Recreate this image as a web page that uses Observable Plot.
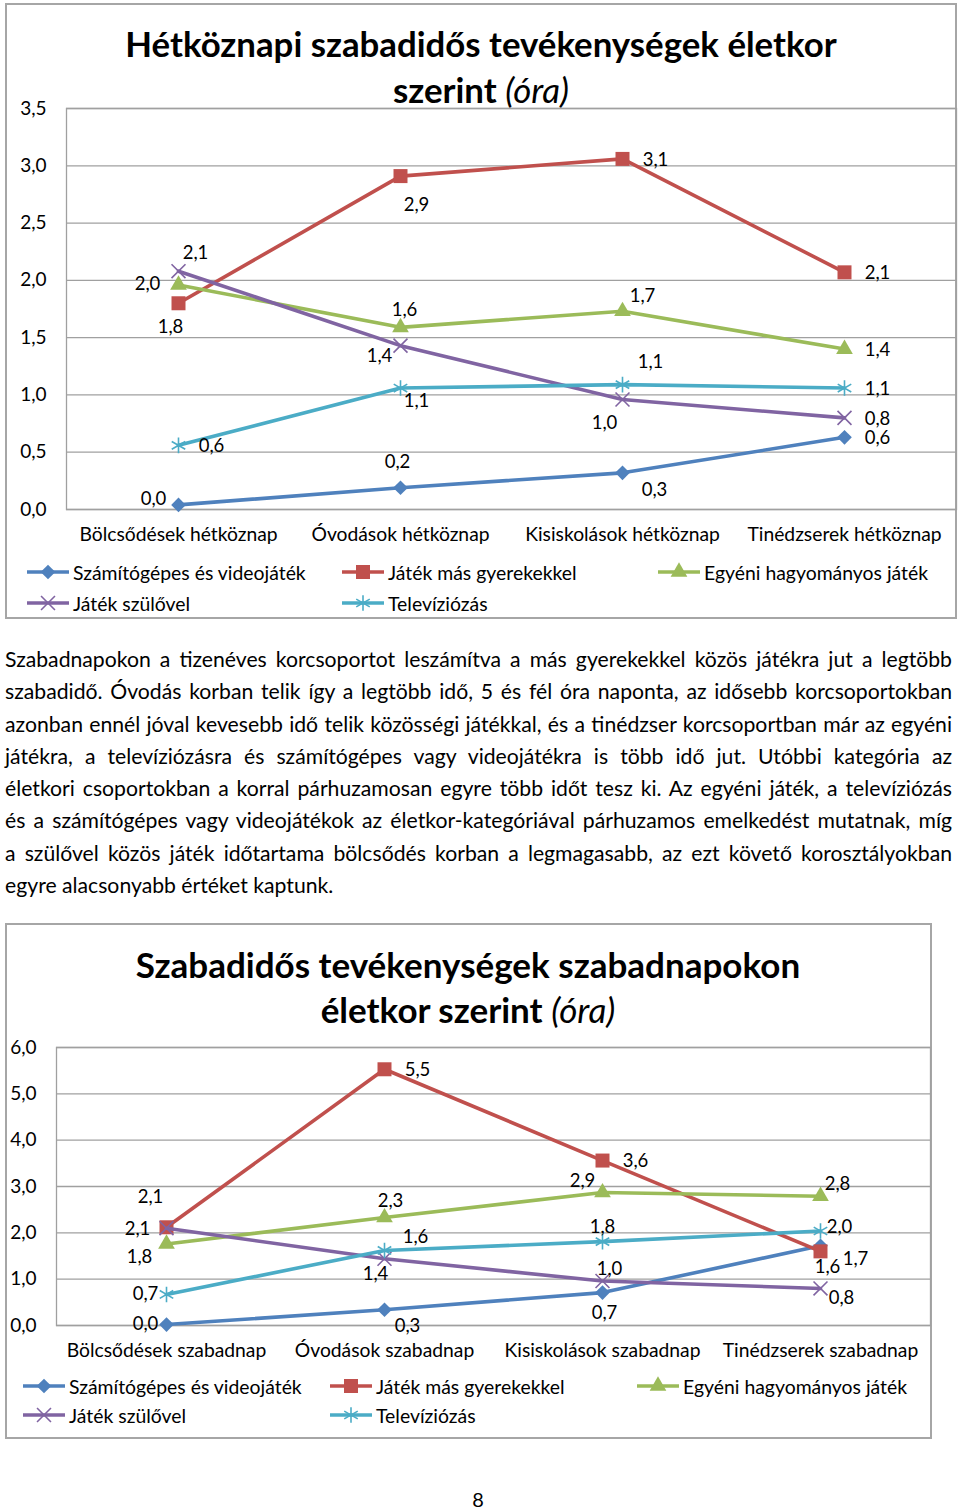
<!DOCTYPE html>
<html>
<head>
<meta charset="utf-8">
<script src="https://cdn.jsdelivr.net/npm/d3@7"></script>
<script src="https://cdn.jsdelivr.net/npm/@observablehq/plot@0.6"></script>
<style>
  html, body { margin: 0; padding: 0; background: #fff; }
  #page { position: relative; width: 960px; height: 1510px; background: #fff; font-family: Lato, "Open Sans", sans-serif; color: #000; overflow: hidden; }
  .box { position: absolute; border: 2px solid #a6a6a6; box-sizing: border-box; }
  .title { position: absolute; text-align: center; font-weight: 700; color: #000; white-space: nowrap; }
  .title i { font-weight: 400; }
  .plot { position: absolute; }
  .leg { position: absolute; display: flex; align-items: center; white-space: nowrap; font-size: 19.4px; }
  .leg svg { flex: none; margin-right: 4px; }
  #para { position: absolute; left: 5px; top: 643px; width: 947px; font-size: 21.2px; line-height: 32.3px; }
  #para div { text-align: justify; text-align-last: justify; white-space: nowrap; }
  #para div.last { text-align-last: left; }
  #pnum { position: absolute; left: 0; width: 956px; top: 1489px; height: 20px; line-height: 20px; text-align: center; font-size: 20px; }
</style>
</head>
<body>
<div id="page"></div>
<script>
// ---------------- data ----------------
const seriesNames = ["Számítógépes és videojáték", "Játék más gyerekekkel", "Egyéni hagyományos játék", "Játék szülővel", "Televíziózás"];

const weekdayCategories = ["Bölcsődések hétköznap", "Óvodások hétköznap", "Kisiskolások hétköznap", "Tinédzserek hétköznap"];
const weekdayComputer = [0.04, 0.19, 0.32, 0.63];
const weekdayOtherKids = [1.80, 2.91, 3.06, 2.07];
const weekdayIndividual = [1.96, 1.59, 1.73, 1.40];
const weekdayParent = [2.08, 1.43, 0.96, 0.80];
const weekdayTV = [0.56, 1.06, 1.09, 1.06];
const weekdayTicks = [0, 0.5, 1, 1.5, 2, 2.5, 3, 3.5];

const weekendCategories = ["Bölcsődések szabadnap", "Óvodások szabadnap", "Kisiskolások szabadnap", "Tinédzserek szabadnap"];
const weekendComputer = [0.02, 0.34, 0.71, 1.72];
const weekendOtherKids = [2.12, 5.53, 3.56, 1.60];
const weekendIndividual = [1.76, 2.33, 2.87, 2.79];
const weekendParent = [2.10, 1.44, 0.96, 0.80];
const weekendTV = [0.67, 1.62, 1.81, 2.04];
const weekendTicks = [0, 1, 2, 3, 4, 5, 6];

const paragraphLines = [
  "Szabadnapokon a tizenéves korcsoportot leszámítva a más gyerekekkel közös játékra jut a legtöbb",
  "szabadidő. Óvodás korban telik így a legtöbb idő, 5 és fél óra naponta, az idősebb korcsoportokban",
  "azonban ennél jóval kevesebb idő telik közösségi játékkal, és a tinédzser korcsoportban már az egyéni",
  "játékra, a televíziózásra és számítógépes vagy videojátékra is több idő jut. Utóbbi kategória az",
  "életkori csoportokban a korral párhuzamosan egyre több időt tesz ki. Az egyéni játék, a televíziózás",
  "és a számítógépes vagy videojátékok az életkor-kategóriával párhuzamos emelkedést mutatnak, míg",
  "a szülővel közös játék időtartama bölcsődés korban a legmagasabb, az ezt követő korosztályokban",
  "egyre alacsonyabb értéket kaptunk."
];

// ---------------- styles (not data) ----------------
const colors = ["#4F81BD", "#C0504D", "#9BBB59", "#8064A2", "#4BACC6"];
const symbols = ["diamond2", "square", "triangle", "times", "asterisk"];
const symbolR = [6.6, 7.9, 6.2, 6.4, 7.4];
const symbolFilled = [true, true, true, false, false];
// data-label offsets relative to each point [dx, dy], per series, per category
const weekdayLabelOffsets = [
  [[-25, -6], [-3, -26], [32, 17], [33, 1]],
  [[-8, 24], [16, 29], [33, 1], [33, 1]],
  [[-31, -1], [4, -17], [20, -15], [33, 1]],
  [[17, -18], [-21, 10], [-18, 24], [33, 1]],
  [[33, 1], [16, 13], [28, -23], [33, 1]]
];
const weekendLabelOffsets = [
  [[-21, 0], [23, 16], [2, 20], [35, 13]],
  [[-16, -30], [33, 1], [33, 1], [7, 16]],
  [[-27, 13], [6, -16], [-20, -11], [17, -12]],
  [[-29, 1], [-9, 15], [7, -12], [21, 10]],
  [[-21, 0], [31, -13], [0, -15], [19, -4]]
];

const fmt = d => d.toFixed(1).replace(".", ",");
const page = document.getElementById("page");

function el(tag, cls, style, html) {
  const e = document.createElement(tag);
  if (cls) e.className = cls;
  Object.assign(e.style, style || {});
  if (html != null) e.innerHTML = html;
  page.appendChild(e);
  return e;
}

function buildChart(cfg) {
  const {categories, series, ticks, yMax, offsets, svgLeft, svgTop, width, height, marginLeft} = cfg;
  const rows = [];
  series.forEach((vals, si) => vals.forEach((v, ci) => rows.push({
    series: seriesNames[si], si, category: categories[ci], value: v,
    dx: offsets[si][ci][0], dy: offsets[si][ci][1]
  })));
  const marks = [
    Plot.gridY(ticks, {stroke: "#a0a0a0", strokeOpacity: 1, strokeWidth: 1.3}),
    Plot.frame({stroke: "#a0a0a0", strokeWidth: 1.3}),
    Plot.axisY({ticks, tickFormat: fmt, tickSize: 0, tickPadding: 20, fontSize: 19, label: null}),
    Plot.axisX({tickSize: 0, tickPadding: 18, fontSize: 19.3, label: null})
  ];
  seriesNames.forEach((name, si) => {
    const d = rows.filter(r => r.si === si);
    marks.push(Plot.line(d, {x: "category", y: "value", stroke: colors[si], strokeWidth: 3.6, strokeLinejoin: "round"}));
    marks.push(Plot.dot(d, {
      x: "category", y: "value", symbol: () => symbols[si], r: symbolR[si],
      fill: symbolFilled[si] ? colors[si] : "none",
      stroke: colors[si], strokeWidth: symbolFilled[si] ? 0 : 1.6
    }));
  });
  rows.forEach(r => {
    marks.push(Plot.text([r], {x: "category", y: "value", text: d => fmt(d.value), dx: r.dx, dy: r.dy, fontSize: 18.5, fill: "#000"}));
  });
  const svg = Plot.plot({
    width, height, marginLeft, marginRight: 0, marginTop: 13, marginBottom: 45,
    style: {fontFamily: "Lato, 'Open Sans', sans-serif", fontSize: "18px", color: "#000", background: "transparent", overflow: "visible"},
    x: {type: "point", domain: categories, padding: 0.5, label: null},
    y: {domain: [0, yMax], label: null},
    symbol: {type: "identity"},
    marks
  });
  const wrap = el("div", "plot", {left: svgLeft + "px", top: svgTop + "px"});
  wrap.appendChild(svg);
}

function swatch(si) {
  const w = 42, h = 24;
  const ns = "http://www.w3.org/2000/svg";
  const s = document.createElementNS(ns, "svg");
  s.setAttribute("width", w); s.setAttribute("height", h);
  const line = document.createElementNS(ns, "line");
  line.setAttribute("x1", 0); line.setAttribute("x2", w);
  line.setAttribute("y1", h / 2); line.setAttribute("y2", h / 2);
  line.setAttribute("stroke", colors[si]); line.setAttribute("stroke-width", 3.6);
  s.appendChild(line);
  const map = {diamond2: d3.symbolDiamond2, square: d3.symbolSquare, triangle: d3.symbolTriangle, times: d3.symbolTimes, asterisk: d3.symbolAsterisk};
  const p = document.createElementNS(ns, "path");
  p.setAttribute("d", d3.symbol(map[symbols[si]], Math.PI * symbolR[si] * symbolR[si])());
  p.setAttribute("transform", `translate(${w / 2},${h / 2})`);
  if (symbolFilled[si]) { p.setAttribute("fill", colors[si]); }
  else { p.setAttribute("fill", "none"); p.setAttribute("stroke", colors[si]); p.setAttribute("stroke-width", 1.6); }
  s.appendChild(p);
  return s;
}

function legend(cols, rowsY) {
  const order = [[0, 0, 0], [1, 1, 0], [2, 2, 0], [3, 0, 1], [4, 1, 1]];
  order.forEach(([si, c, r]) => {
    const d = el("div", "leg", {left: cols[c] + "px", top: (rowsY[r] - 12) + "px", height: "24px"});
    d.appendChild(swatch(si));
    const t = document.createElement("span");
    t.textContent = seriesNames[si];
    d.appendChild(t);
  });
}

// ---------------- chart 1 ----------------
el("div", "box", {left: "5px", top: "3px", width: "952px", height: "616px"});
el("div", "title", {left: "6px", top: "21px", width: "950px", fontSize: "34.8px", lineHeight: "46px"},
   "Hétköznapi szabadidős tevékenységek életkor<br>szerint <i>(óra)</i>");
buildChart({
  categories: weekdayCategories,
  series: [weekdayComputer, weekdayOtherKids, weekdayIndividual, weekdayParent, weekdayTV],
  ticks: weekdayTicks, yMax: 3.5, offsets: weekdayLabelOffsets,
  svgLeft: 6, svgTop: 95, width: 950, height: 459, marginLeft: 60
});
legend([27, 342, 658], [572, 603]);

// ---------------- paragraph ----------------
const para = el("div", null, {});
para.id = "para";
paragraphLines.forEach((line, i) => {
  const d = document.createElement("div");
  if (i === paragraphLines.length - 1) d.className = "last";
  d.textContent = line;
  para.appendChild(d);
});

// ---------------- chart 2 ----------------
el("div", "box", {left: "5px", top: "923px", width: "927px", height: "516px"});
el("div", "title", {left: "6px", top: "942px", width: "924px", fontSize: "35px", lineHeight: "45px"},
   "Szabadidős tevékenységek szabadnapokon<br>életkor szerint <i>(óra)</i>");
buildChart({
  categories: weekendCategories,
  series: [weekendComputer, weekendOtherKids, weekendIndividual, weekendParent, weekendTV],
  ticks: weekendTicks, yMax: 6, offsets: weekendLabelOffsets,
  svgLeft: 6, svgTop: 1034, width: 924, height: 336, marginLeft: 50
});
legend([23, 330, 637], [1386, 1415]);

// page number
const pn = el("div", null, {}, "8");
pn.id = "pnum";
</script>
</body>
</html>
